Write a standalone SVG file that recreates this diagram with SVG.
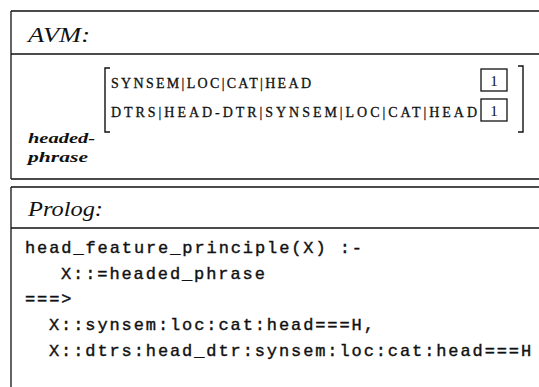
<svg xmlns="http://www.w3.org/2000/svg" width="539" height="387" viewBox="0 0 539 387">
<style>
.frame{stroke:#111;stroke-width:1.3;fill:none}
.brk{stroke:#111;stroke-width:1.4;fill:none}
.title{font-family:"Liberation Serif",serif;font-style:italic;font-size:22px;fill:#111}
.feat{font-family:"Liberation Serif",serif;font-size:14px;fill:#111;stroke:#111;stroke-width:0.3}
.tag{font-family:"Liberation Serif",serif;font-size:15px;fill:#111;text-anchor:middle}
.type{font-family:"Liberation Serif",serif;font-style:italic;font-weight:bold;font-size:15px;fill:#111}
.code{font-family:"Liberation Mono",monospace;font-size:17px;letter-spacing:1.9px;fill:#111;stroke:#111;stroke-width:0.4}
</style>
<rect width="539" height="387" fill="#fff"/>
<g id="avm-panel">
  <path class="frame" d="M11,11 H539 M11,11 V179 M11,54 H539 M11,179 H539"/>
  <text class="title" x="28" y="42" textLength="62" lengthAdjust="spacingAndGlyphs">AVM:</text>
  <path class="brk" d="M110,68 H105 V132 H110"/>
  <path class="brk" d="M518,66 H523 V132 H518"/>
  <text class="feat" x="111" y="88" textLength="200" lengthAdjust="spacing">SYNSEM|LOC|CAT|HEAD</text>
  <text class="feat" x="111" y="117" textLength="366" lengthAdjust="spacing">DTRS|HEAD-DTR|SYNSEM|LOC|CAT|HEAD</text>
  <rect class="frame" x="481" y="69" width="26" height="22"/>
  <text class="tag" x="494" y="86">1</text>
  <rect class="frame" x="481" y="99" width="26" height="22"/>
  <text class="tag" x="494" y="116">1</text>
  <text class="type" x="28" y="143" textLength="67" lengthAdjust="spacingAndGlyphs">headed-</text>
  <text class="type" x="28" y="162" textLength="60" lengthAdjust="spacingAndGlyphs">phrase</text>
</g>
<g id="prolog-panel">
  <path class="frame" d="M11,187 H539 M11,187 V387 M11,228 H539"/>
  <text class="title" x="28" y="216" textLength="75" lengthAdjust="spacingAndGlyphs">Prolog:</text>
  <text class="code" x="25" y="253">head_feature_principle(X) :-</text>
  <text class="code" x="61" y="279">X::=headed_phrase</text>
  <text class="code" x="25" y="304">===&gt;</text>
  <text class="code" x="49" y="330">X::synsem:loc:cat:head===H,</text>
  <text class="code" x="49" y="356">X::dtrs:head_dtr:synsem:loc:cat:head===H</text>
</g>
<g id="connectors"/>
</svg>
